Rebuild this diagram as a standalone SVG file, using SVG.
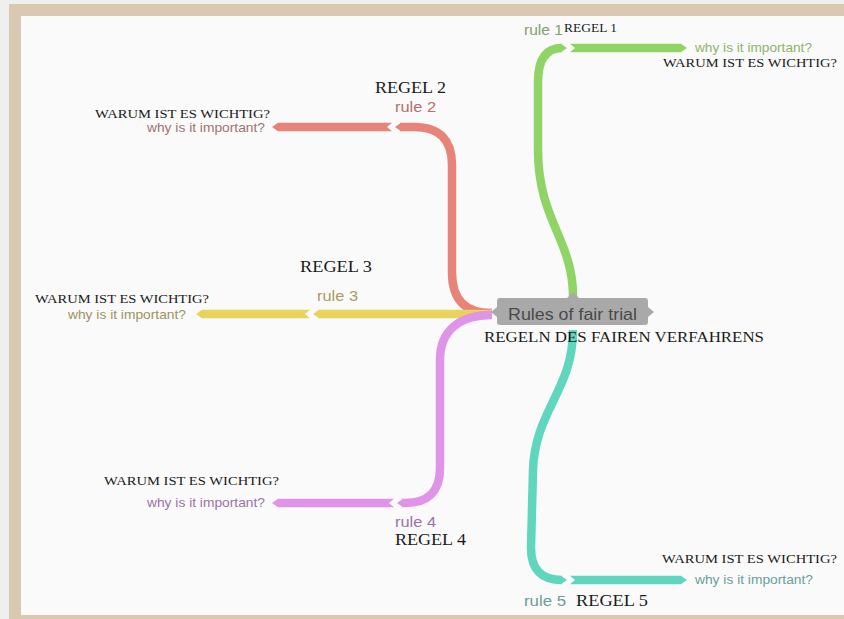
<svg xmlns="http://www.w3.org/2000/svg" width="844" height="619" viewBox="0 0 844 619">
<style>
.br{fill:none;stroke-width:8.5;stroke-linecap:butt;stroke-linejoin:round}
.sans{font-family:"Liberation Sans",Arial,sans-serif}
.serif{font-family:"Liberation Serif","Times New Roman",serif;fill:#1a1a1a}
.why{font-size:13px}
.rule{font-size:15px}
.de{font-size:12.5px}
.reg{font-size:16px}
</style>
<rect x="0" y="0" width="844" height="619" fill="#efefef"/>
<rect x="9" y="4" width="835" height="615" fill="#d9c8b2"/>
<rect x="21" y="16" width="823" height="599" fill="#fafafa"/>

<g id="connectors">
  <!-- green rule 1 -->
  <path class="br" stroke="#8fd465" d="M 573 296 C 573 240, 538 220, 538 150 L 538 82 Q 538 48, 562 48"/>
  <polygon fill="#8fd465" points="561,43.75 567,48 561,52.25"/>
  <polygon fill="#8fd465" points="570,43.75 681,43.75 687,48 681,52.25 570,52.25 575,48"/>
  <!-- red rule 2 -->
  <path class="br" stroke="#e8837a" d="M 492 313 C 465 313, 452 300, 452 272 L 452 165 Q 452 127, 414 127 L 400 127"/>
  <polygon fill="#e8837a" points="401,122.75 395,127 401,131.25"/>
  <polygon fill="#e8837a" points="392,122.75 278,122.75 272,127 278,131.25 392,131.25 387,127"/>
  <!-- yellow rule 3 -->
  <path class="br" stroke="#e8d45c" d="M 492 314 L 318 314"/>
  <polygon fill="#e8d45c" points="319,309.75 313,314 319,318.25"/>
  <polygon fill="#e8d45c" points="310,309.75 202,309.75 196,314 202,318.25 310,318.25 305,314"/>
  <!-- purple rule 4 -->
  <path class="br" stroke="#df93e9" d="M 492 315 C 460 315, 440 330, 440 360 L 440 468 Q 440 503, 405 503 L 402 503"/>
  <polygon fill="#df93e9" points="403,498.75 397,503 403,507.25"/>
  <polygon fill="#df93e9" points="394,498.75 278,498.75 272,503 278,507.25 394,507.25 389,503"/>
  <!-- teal rule 5 -->
  <path class="br" stroke="#5fd6bd" d="M 573 330 C 573 390, 535 410, 533 470 L 531 548 Q 531 580, 562 580"/>
  <polygon fill="#5fd6bd" points="561,575.75 567,580 561,584.25"/>
  <polygon fill="#5fd6bd" points="570,575.75 681,575.75 687,580 681,584.25 570,584.25 575,580"/>
</g>

<g id="center">
  <rect x="497" y="298" width="151" height="27" rx="3" fill="#a9a9a9"/>
  <polygon fill="#a9a9a9" points="497,307 491,312 497,317"/>
  <polygon fill="#a9a9a9" points="648,307 654,312 648,317"/>
  <polygon fill="#a9a9a9" points="567,298 573,292 579,298"/>
  <text class="sans" x="508" y="320" font-size="17" fill="#4a4a4a" textLength="129" lengthAdjust="spacingAndGlyphs">Rules of fair trial</text>
  <text class="serif" x="484" y="342" font-size="15" textLength="280" lengthAdjust="spacingAndGlyphs">REGELN DES FAIREN VERFAHRENS</text>
</g>

<g id="rule1">
  <text class="sans rule" x="524" y="35" fill="#84a070" textLength="39" lengthAdjust="spacingAndGlyphs">rule 1</text>
  <text class="serif" x="564" y="32" font-size="12" textLength="53" lengthAdjust="spacingAndGlyphs">REGEL 1</text>
  <text class="sans why" x="695" y="52" fill="#8fb36a" textLength="117" lengthAdjust="spacingAndGlyphs">why is it important?</text>
  <text class="serif de" x="663" y="67" textLength="174" lengthAdjust="spacingAndGlyphs">WARUM IST ES WICHTIG?</text>
</g>

<g id="rule2">
  <text class="serif reg" x="375" y="93" textLength="71" lengthAdjust="spacingAndGlyphs">REGEL 2</text>
  <text class="sans rule" x="395" y="112" fill="#b56f6b" textLength="41" lengthAdjust="spacingAndGlyphs">rule 2</text>
  <text class="serif de" x="95" y="118" textLength="175" lengthAdjust="spacingAndGlyphs">WARUM IST ES WICHTIG?</text>
  <text class="sans why" x="147" y="132" fill="#a07373" textLength="118" lengthAdjust="spacingAndGlyphs">why is it important?</text>
</g>

<g id="rule3">
  <text class="serif reg" x="300" y="272" textLength="72" lengthAdjust="spacingAndGlyphs">REGEL 3</text>
  <text class="sans rule" x="317" y="301" fill="#a89c60" textLength="41" lengthAdjust="spacingAndGlyphs">rule 3</text>
  <text class="serif de" x="35" y="303" textLength="174" lengthAdjust="spacingAndGlyphs">WARUM IST ES WICHTIG?</text>
  <text class="sans why" x="68" y="319" fill="#9e935c" textLength="118" lengthAdjust="spacingAndGlyphs">why is it important?</text>
</g>

<g id="rule4">
  <text class="serif de" x="104" y="485" textLength="175" lengthAdjust="spacingAndGlyphs">WARUM IST ES WICHTIG?</text>
  <text class="sans why" x="147" y="507" fill="#9b72a8" textLength="118" lengthAdjust="spacingAndGlyphs">why is it important?</text>
  <text class="sans rule" x="395" y="527" fill="#9b72a8" textLength="41" lengthAdjust="spacingAndGlyphs">rule 4</text>
  <text class="serif reg" x="395" y="545" textLength="71" lengthAdjust="spacingAndGlyphs">REGEL 4</text>
</g>

<g id="rule5">
  <text class="serif de" x="662" y="563" textLength="175" lengthAdjust="spacingAndGlyphs">WARUM IST ES WICHTIG?</text>
  <text class="sans why" x="695" y="584" fill="#6a9f9c" textLength="118" lengthAdjust="spacingAndGlyphs">why is it important?</text>
  <text class="sans rule" x="524" y="606" fill="#6f9a98" textLength="42" lengthAdjust="spacingAndGlyphs">rule 5</text>
  <text class="serif reg" x="576" y="606" textLength="72" lengthAdjust="spacingAndGlyphs">REGEL 5</text>
</g>
</svg>
